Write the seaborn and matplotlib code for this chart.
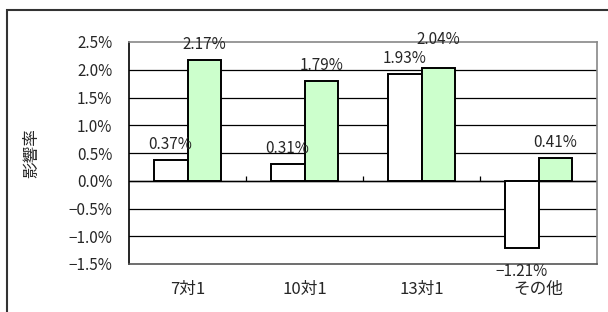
import numpy as np
import pandas as pd
import matplotlib
matplotlib.use("Agg")
import matplotlib.pyplot as plt
import matplotlib.ticker as mticker
from matplotlib.patches import Rectangle
import seaborn as sns

sns.set_theme(style="white")
plt.rcParams["font.family"] = ["Noto Sans CJK JP", "DejaVu Sans"]
plt.rcParams["axes.unicode_minus"] = True

# data (percent)
categories = ["7対1", "10対1", "13対1", "その他"]
series_names = ["系列1", "系列2"]
series1 = [0.37, 0.31, 1.93, -1.21]
series2 = [2.17, 1.79, 2.04, 0.41]
y_ticks = [-1.5, -1.0, -0.5, 0.0, 0.5, 1.0, 1.5, 2.0, 2.5]

df = pd.DataFrame({
    "cat": categories * 2,
    "series": [series_names[0]] * 4 + [series_names[1]] * 4,
    "val": series1 + series2,
})

fig = plt.figure(figsize=(6.08, 3.12), dpi=100)
ax = fig.add_axes([129 / 608, 48 / 312, 468 / 608, 222 / 312])

# outer frame
fig.patches.append(Rectangle((7 / 608, -0.2), 1.2, 0.2 + 302 / 312, transform=fig.transFigure,
                             fill=False, edgecolor="#333333", linewidth=1.5, clip_on=False))

# gridlines first
for t in y_ticks[1:-1]:
    ax.axhline(t, color="black", linewidth=0.9, zorder=0)

sns.barplot(data=df, x="cat", y="val", hue="series", order=categories,
            hue_order=series_names, palette=["white", "#CCFFCC"], width=0.58,
            edgecolor="black", linewidth=1.4, saturation=1, legend=False, ax=ax, zorder=2)

fmt = lambda v: f"{v:.2f}%".replace("-", "\u2212")
labels = []
for cont, vals in zip(ax.containers, [series1, series2]):
    labels.append(ax.bar_label(cont, labels=[fmt(v) for v in vals], padding=5, fontsize=11))

# lift the 13対1 green label so it clears its neighbour
lx, ly = labels[1][2].xyann
labels[1][2].xyann = (lx, ly + 9)
# push the negative label a bit further down, as in the original
lx, ly = labels[0][3].xyann
labels[0][3].xyann = (lx, ly - 6)

# category boundary ticks on the zero line
ax.axhline(0, color="black", linewidth=1.0, zorder=1)
ax.vlines(np.arange(len(categories) - 1) + 0.5, 0, 0.09, color="black", linewidth=0.9, zorder=1)

ax.set_xlim(-0.5, len(categories) - 0.5)
ax.set_ylim(-1.5, 2.5)
ax.set_yticks(y_ticks)
ax.yaxis.set_major_formatter(mticker.FuncFormatter(lambda v, p: f"{v:.1f}%".replace("-", "\u2212")))
ax.tick_params(axis="y", length=0, pad=12, labelsize=11)
ax.tick_params(axis="x", length=0, pad=12, labelsize=12)
ax.set_xlabel("")
ax.set_ylabel("影響率", fontsize=12)
ax.yaxis.set_label_coords(-0.19, 0.5)

for side in ["top", "right"]:
    ax.spines[side].set_color("#888888")
    ax.spines[side].set_linewidth(1.2)
ax.spines["left"].set_color("black")
ax.spines["left"].set_linewidth(1.2)
ax.spines["bottom"].set_color("#555555")
ax.spines["bottom"].set_linewidth(1.2)

fig.savefig("out.png", dpi=100)
